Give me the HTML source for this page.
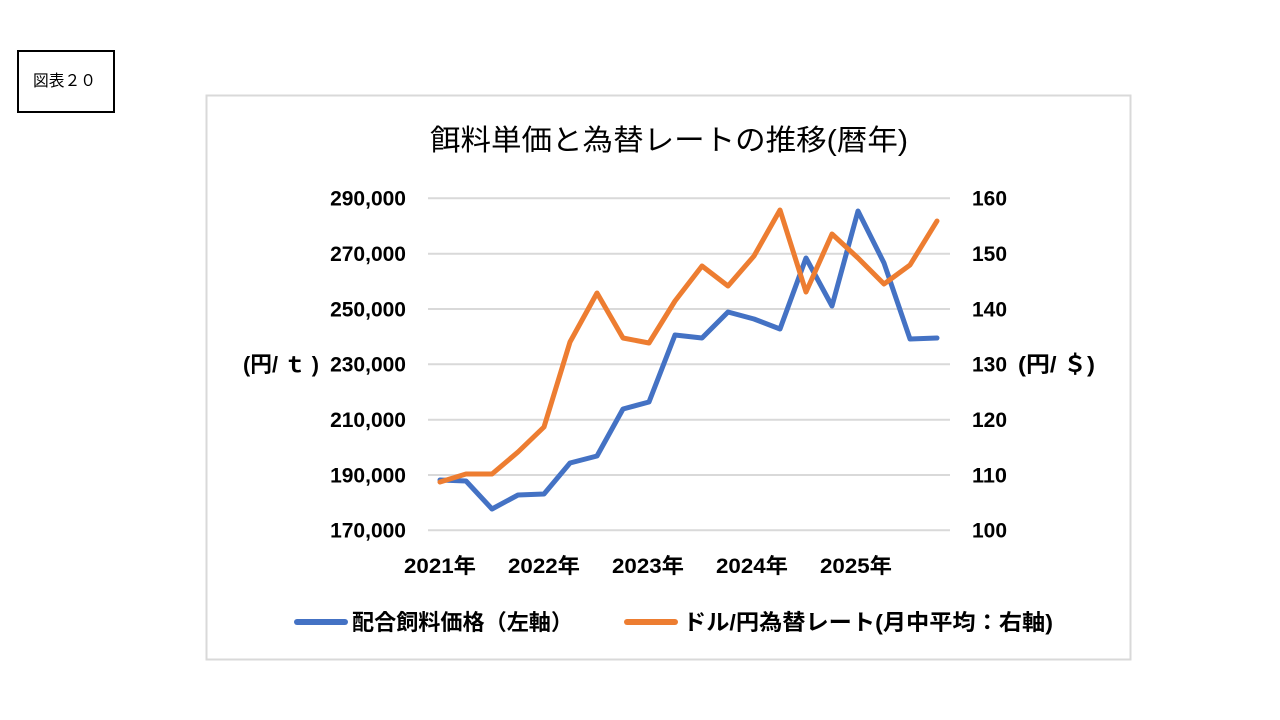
<!DOCTYPE html>
<html>
<head>
<meta charset="utf-8">
<style>
  html,body{margin:0;padding:0;background:#fff;}
  body{width:1280px;height:720px;overflow:hidden;}
  svg{display:block;}
  text{font-family:"Liberation Sans","Noto Sans CJK JP",sans-serif;fill:#000;}
  .b{font-weight:bold;}
</style>
</head>
<body>
<svg width="1280" height="720" viewBox="0 0 1280 720" xmlns="http://www.w3.org/2000/svg">
  <rect x="0" y="0" width="1280" height="720" fill="#fff"/>
  <!-- 図表 box -->
  <rect x="18" y="51" width="96" height="61" fill="#fff" stroke="#000" stroke-width="2"/>
  <text x="33" y="86" font-size="16" textLength="63" lengthAdjust="spacingAndGlyphs">図表２０</text>

  <!-- chart frame -->
  <rect x="206.5" y="95.5" width="924" height="564" fill="#fff" stroke="#d9d9d9" stroke-width="2"/>

  <!-- title -->
  <text x="430" y="150" font-size="29" textLength="478" lengthAdjust="spacingAndGlyphs">餌料単価と為替レートの推移(暦年)</text>

  <!-- gridlines -->
  <g stroke="#d9d9d9" stroke-width="2">
    <line x1="428" y1="198.3" x2="950" y2="198.3"/>
    <line x1="428" y1="253.7" x2="950" y2="253.7"/>
    <line x1="428" y1="309" x2="950" y2="309"/>
    <line x1="428" y1="364.3" x2="950" y2="364.3"/>
    <line x1="428" y1="419.7" x2="950" y2="419.7"/>
    <line x1="428" y1="475" x2="950" y2="475"/>
    <line x1="428" y1="530.3" x2="950" y2="530.3"/>
  </g>

  <!-- left axis labels -->
  <g class="b" font-size="21" text-anchor="end">
    <text x="406" y="205.6">290,000</text>
    <text x="406" y="261">270,000</text>
    <text x="406" y="316.3">250,000</text>
    <text x="406" y="371.6">230,000</text>
    <text x="406" y="427">210,000</text>
    <text x="406" y="482.3">190,000</text>
    <text x="406" y="537.6">170,000</text>
  </g>
  <text class="b" x="243" y="372" font-size="22" textLength="76" lengthAdjust="spacingAndGlyphs">(円/ ｔ )</text>

  <!-- right axis labels -->
  <g class="b" font-size="21">
    <text x="972" y="205.6" textLength="35" lengthAdjust="spacingAndGlyphs">160</text>
    <text x="972" y="261" textLength="35" lengthAdjust="spacingAndGlyphs">150</text>
    <text x="972" y="316.3" textLength="35" lengthAdjust="spacingAndGlyphs">140</text>
    <text x="972" y="371.6" textLength="35" lengthAdjust="spacingAndGlyphs">130</text>
    <text x="972" y="427" textLength="35" lengthAdjust="spacingAndGlyphs">120</text>
    <text x="972" y="482.3" textLength="35" lengthAdjust="spacingAndGlyphs">110</text>
    <text x="972" y="537.6" textLength="35" lengthAdjust="spacingAndGlyphs">100</text>
  </g>
  <text class="b" x="1018" y="372" font-size="22" textLength="77" lengthAdjust="spacingAndGlyphs">(円/ ＄)</text>

  <!-- x axis labels -->
  <g class="b" font-size="21">
    <text x="404" y="573" textLength="72" lengthAdjust="spacingAndGlyphs">2021年</text>
    <text x="508" y="573" textLength="72" lengthAdjust="spacingAndGlyphs">2022年</text>
    <text x="612" y="573" textLength="72" lengthAdjust="spacingAndGlyphs">2023年</text>
    <text x="716" y="573" textLength="72" lengthAdjust="spacingAndGlyphs">2024年</text>
    <text x="820" y="573" textLength="72" lengthAdjust="spacingAndGlyphs">2025年</text>
  </g>

  <!-- series -->
  <polyline fill="none" stroke="#4472C4" stroke-width="5" stroke-linejoin="round" stroke-linecap="round"
    points="440,480 466,481 492,509 518,495 544,494 570,463 597,456 623,409 649,402 675,335 702,338 728,312 754,319 780,329 806,258 832,306 858,211 884,263 910,339 937,338"/>
  <polyline fill="none" stroke="#ED7D31" stroke-width="5" stroke-linejoin="round" stroke-linecap="round"
    points="440,482 466,474 492,474 518,452 544,427 570,342 597,293 623,338 649,343 675,301 702,266 728,286 754,256 780,210 806,292 832,234 858,258 884,284 910,265 937,221"/>

  <!-- legend -->
  <line x1="297" y1="622" x2="345" y2="622" stroke="#4472C4" stroke-width="6" stroke-linecap="round"/>
  <text class="b" x="352" y="630" font-size="22" textLength="221" lengthAdjust="spacingAndGlyphs">配合飼料価格（左軸）</text>
  <line x1="627" y1="622" x2="675" y2="622" stroke="#ED7D31" stroke-width="6" stroke-linecap="round"/>
  <text class="b" x="683" y="630" font-size="22" textLength="370" lengthAdjust="spacingAndGlyphs">ドル/円為替レート(月中平均：右軸)</text>
</svg>
</body>
</html>
